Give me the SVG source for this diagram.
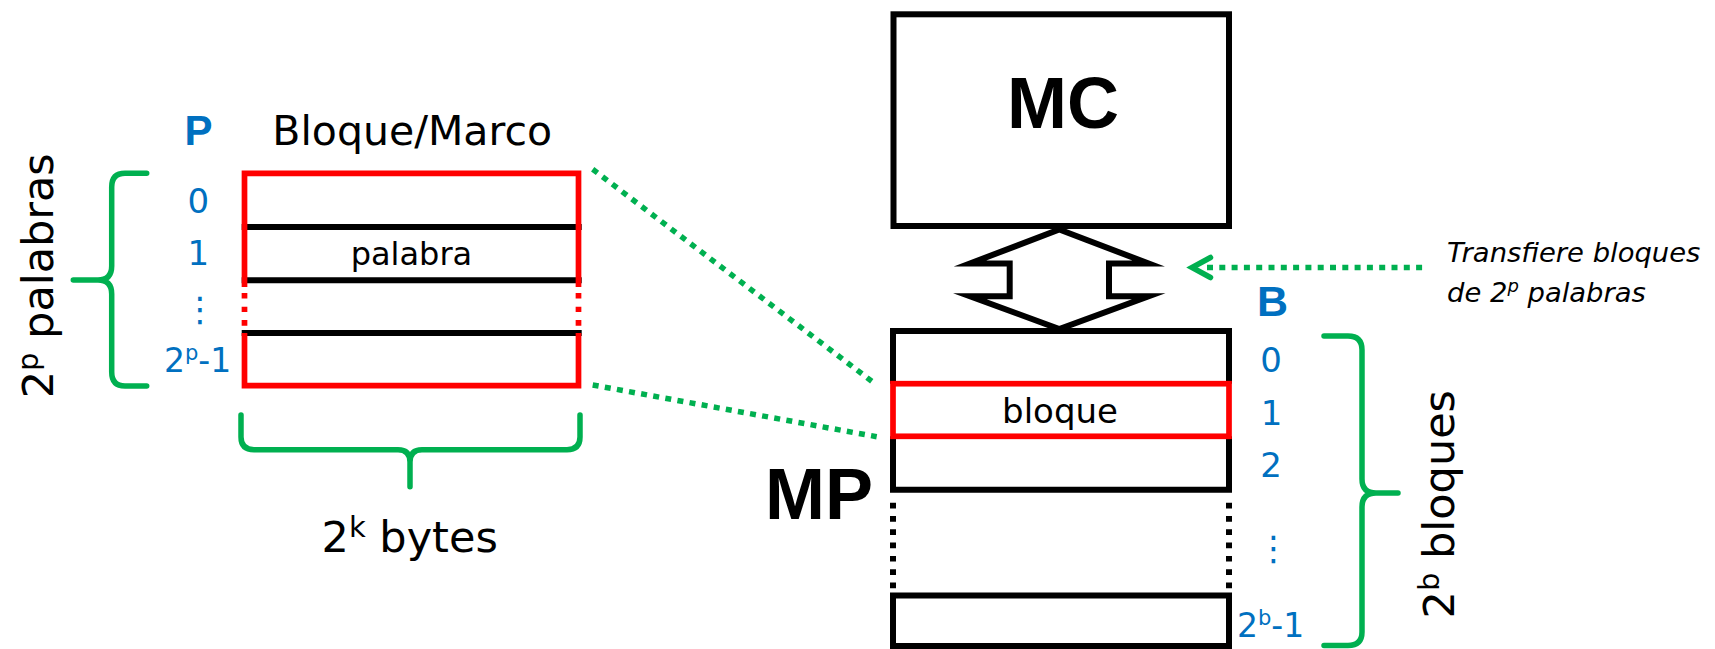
<svg xmlns="http://www.w3.org/2000/svg" width="1715" height="649" viewBox="0 0 1715 649">
<style>
.t{font-family:"DejaVu Sans","Liberation Sans",sans-serif;fill:#000;}
.bd{font-family:"Liberation Sans",Arial,sans-serif;font-weight:bold;}
.blue{fill:#0070C0;}
.it{font-style:italic;}
.blk{stroke:#000;stroke-width:6;fill:none;}
.red{stroke:#FF0000;stroke-width:5.7;fill:none;}
.brace{stroke:#00B050;stroke-width:5.5;fill:none;stroke-linecap:round;stroke-linejoin:round;}
.dot{stroke:#00B050;stroke-width:5.5;fill:none;stroke-dasharray:6 6.3;}
.bdot{stroke:#000;stroke-width:6;fill:none;stroke-dasharray:5.7 7.6;}
</style>
<rect width="1715" height="649" fill="#fff"/>

<g id="bloque-marco">
  <path class="blk" d="M241.7,227 H581.7 M241.7,280.3 H581.7 M241.7,333 H581.7"/>
  <path class="red" d="M244.5,287 V173.3 H578.5 V287 M244.5,333 V385.7 H578.5 V333"/>
  <path class="red" d="M244.5,293 V298.5 M244.5,306.7 V312 M244.5,320 V325.7 M578.5,293 V298.5 M578.5,306.7 V312 M578.5,320 V325.7"/>
  <text class="t" x="411.4" y="265" font-size="32" text-anchor="middle">palabra</text>
  <text class="t" x="412.2" y="145" font-size="41" text-anchor="middle">Bloque/Marco</text>
</g>

<g id="p-labels">
  <text class="bd blue" x="198.5" y="145" font-size="42" text-anchor="middle">P</text>
  <text class="t blue" x="198.3" y="213.3" font-size="34" text-anchor="middle">0</text>
  <text class="t blue" x="198.3" y="265" font-size="34" text-anchor="middle">1</text>
  <text class="t blue" x="200" y="321" font-size="34" text-anchor="middle">⋮</text>
  <text class="t blue" x="197.5" y="371.7" font-size="33" text-anchor="middle">2<tspan font-size="21" dy="-12">p</tspan><tspan dy="12">-1</tspan></text>
</g>

<g id="brace-palabras">
  <path class="brace" d="M146.7,173.3 H125 Q111.7,173.3 111.7,187 V266 Q111.7,280 98,280 H73.3 M98,280 Q111.7,280 111.7,294 V372 Q111.7,386 125,386 H146.7"/>
  <text class="t" transform="translate(53.3,275.8) rotate(-90)" x="0" y="0" font-size="43" text-anchor="middle">2<tspan font-size="29" dy="-15">p</tspan><tspan dy="15"> palabras</tspan></text>
</g>

<g id="brace-bytes">
  <path class="brace" d="M241,415 V437 Q241,449.7 254,449.7 H398 Q410,449.7 410,462 V486.7 M410,462 Q410,449.7 422,449.7 H567 Q580,449.7 580,437 V415"/>
  <text class="t" x="409.7" y="551.7" font-size="43" text-anchor="middle">2<tspan font-size="29" dy="-15">k</tspan><tspan dy="15"> bytes</tspan></text>
</g>

<g id="bus-arrow">
  <polygon points="1059.3,229.5 1148.6,263.5 1109,263.5 1109,296.3 1148.6,296.3 1059.3,329 970,296.3 1009.7,296.3 1009.7,263.5 970,263.5" fill="#fff" stroke="#000" stroke-width="6" stroke-linejoin="miter" stroke-miterlimit="10"/>
</g>

<g id="mc">
  <rect x="893.5" y="14.3" width="335.5" height="211.7" fill="#fff" stroke="#000" stroke-width="6"/>
  <text class="bd" x="1063" y="127.7" font-size="72" text-anchor="middle">MC</text>
</g>

<g id="mp">
  <path class="blk" d="M893,383.7 V331 H1229 V383.7 M893,436.3 V489.7 M1229,436.3 V489.7 M890,489.7 H1232 M893,592.7 V646 H1229 V592.7 M890,595.5 H1232"/>
  <path class="bdot" d="M893,502.7 V590 M1229,502.7 V590"/>
  <rect class="red" x="893" y="383.7" width="336" height="52.6"/>
  <text class="t" x="1060" y="422.7" font-size="34" text-anchor="middle">bloque</text>
  <text class="bd" x="819" y="519.3" font-size="72" text-anchor="middle">MP</text>
</g>

<g id="b-labels">
  <text class="bd blue" x="1272.5" y="315.5" font-size="43" text-anchor="middle">B</text>
  <text class="t blue" x="1271" y="371.7" font-size="34" text-anchor="middle">0</text>
  <text class="t blue" x="1271.5" y="425" font-size="34" text-anchor="middle">1</text>
  <text class="t blue" x="1271" y="476.7" font-size="34" text-anchor="middle">2</text>
  <text class="t blue" x="1273.5" y="560" font-size="34" text-anchor="middle">⋮</text>
  <text class="t blue" x="1270.5" y="636.7" font-size="33" text-anchor="middle">2<tspan font-size="21" dy="-12">b</tspan><tspan dy="12">-1</tspan></text>
</g>

<g id="brace-bloques">
  <path class="brace" d="M1324,336 H1348 Q1362,336 1362,350 V479 Q1362,493 1376,493 H1398 M1376,493 Q1362,493 1362,507 V632 Q1362,645.5 1348,645.5 H1324"/>
  <text class="t" transform="translate(1453.5,504.2) rotate(-90)" x="0" y="0" font-size="43" text-anchor="middle">2<tspan font-size="29" dy="-15">b</tspan><tspan dy="15"> bloques</tspan></text>
</g>

<g id="nota-transfiere">
  <text class="t it" x="1447" y="262.3" font-size="27.4">Transfiere bloques</text>
  <text class="t it" x="1447" y="302" font-size="27.4">de 2<tspan font-size="18" dy="-10">p</tspan><tspan dy="10"> palabras</tspan></text>
</g>

<g id="connectors">
  <path class="dot" d="M592.7,169.3 L876.7,385"/>
  <path class="dot" d="M592.7,385 L876.7,436.7"/>
  <path class="dot" d="M1207,267.5 H1425"/>
  <path d="M1210.5,257.5 L1192,267.5 L1210.5,277.5" fill="none" stroke="#00B050" stroke-width="5.5" stroke-linecap="round" stroke-linejoin="miter"/>
</g>
</svg>
